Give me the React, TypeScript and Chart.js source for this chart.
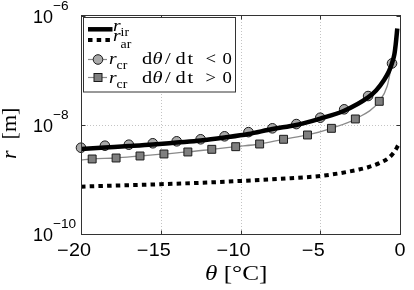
import React, { useEffect, useRef } from "react";
import { Chart, registerables } from "chart.js";
Chart.register(...registerables);

// ---- data ----
const xTicks = [-20, -15, -10, -5, 0];
const xTickLabels = ["−20", "−15", "−10", "−5", "0"];
const yTicks = [1e-6, 1e-8, 1e-10];
const yTickExponents = ["−6", "−8", "−10"];

// r_ir (thick solid line)
const irTheta = [-20, -18.5, -17, -15.5, -14, -12.5, -11, -9.5, -8, -6.5, -5, -3.5, -2, -1.5, -1, -0.7, -0.5, -0.35, -0.27, -0.17];
const irR = [3.63e-9, 3.86e-9, 4.1e-9, 4.38e-9, 4.77e-9, 5.2e-9, 5.9e-9, 6.84e-9, 8.45e-9, 1.0e-8, 1.31e-8, 1.83e-8, 3.22e-8, 4.3e-8, 6.7e-8, 9.6e-8, 1.37e-7, 2.0e-7, 3.0e-7, 5.9e-7];

// r_ar (thick dotted line)
const arTheta = [-20, -17.5, -15, -12.5, -10, -7.5, -5, -3.8, -2.6, -2, -1.3, -0.7, -0.4, -0.1];
const arR = [7.4e-10, 7.8e-10, 8.2e-10, 8.7e-10, 9.4e-10, 1.03e-9, 1.16e-9, 1.3e-9, 1.52e-9, 1.68e-9, 2.0e-9, 2.5e-9, 3.1e-9, 4.3e-9];

// r_cr, dθ/dt < 0 (circles)
const crCoolTheta = [-20, -18.5, -17, -15.5, -14, -12.5, -11, -9.5, -8, -6.5, -5, -3.5, -2, -0.5];
const crCoolR = [3.83e-9, 4.17e-9, 4.35e-9, 4.62e-9, 5.02e-9, 5.47e-9, 6.2e-9, 7.4e-9, 8.69e-9, 1.04e-8, 1.36e-8, 1.94e-8, 3.4e-8, 1.35e-7];

// r_cr, dθ/dt > 0 (squares)
const crWarmTheta = [-19.3, -17.8, -16.3, -14.8, -13.3, -11.8, -10.3, -8.8, -7.3, -5.8, -4.3, -2.8, -1.3];
const crWarmR = [2.38e-9, 2.48e-9, 2.7e-9, 2.94e-9, 3.2e-9, 3.58e-9, 4.0e-9, 4.48e-9, 5.47e-9, 6.56e-9, 8.69e-9, 1.29e-8, 2.72e-8];

// thin grey curve through the squares
const crWarmCurveTheta = [-20, -19.3, -17.8, -16.3, -14.8, -13.3, -11.8, -10.3, -8.8, -7.3, -5.8, -4.3, -2.8, -1.3, -0.8, -0.58, -0.45];
const crWarmCurveR = [2.28e-9, 2.38e-9, 2.48e-9, 2.7e-9, 2.94e-9, 3.2e-9, 3.58e-9, 4.0e-9, 4.48e-9, 5.47e-9, 6.56e-9, 8.69e-9, 1.29e-8, 2.72e-8, 5.2e-8, 1.05e-7, 1.8e-7];

// legend texts
const legendSymbol = ["r", "r", "r", "r"];
const legendSub = ["ir", "ar", "cr", "cr"];
const legendRate = ["d", "θ", "/", "d", "t"];
const legendTail = ["", "", "<", ">"];

const pts = (xs: number[], ys: number[]) => xs.map((x, i) => ({ x, y: ys[i] }));

type Run = { t: string; f: string; dy?: number };

function drawRuns(ctx: CanvasRenderingContext2D, runs: Run[], x: number, y: number, sx = 1) {
  let cx = x;
  for (const r of runs) {
    ctx.save();
    ctx.font = r.f;
    ctx.translate(cx, y + (r.dy || 0));
    ctx.scale(sx, 1);
    ctx.fillText(r.t, 0, 0);
    const w = ctx.measureText(r.t).width;
    ctx.restore();
    cx += w * sx;
  }
  return cx;
}

function textW(ctx: CanvasRenderingContext2D, t: string, f: string) {
  ctx.save();
  ctx.font = f;
  const w = ctx.measureText(t).width;
  ctx.restore();
  return w;
}

const SERIF = '"Liberation Serif", "Times New Roman", serif';
const SANS = '"Liberation Sans", Arial, sans-serif';

const decorPlugin = {
  id: "decor",
  beforeDatasetsDraw(chart: any) {
    const ctx: CanvasRenderingContext2D = chart.ctx;
    const { left, right, top, bottom } = chart.chartArea;
    const xs = chart.scales.x;
    const ys = chart.scales.y;
    ctx.save();
    ctx.strokeStyle = "#c4c4c4";
    ctx.lineWidth = 1;
    ctx.setLineDash([1, 2]);
    xTicks.forEach((v) => {
      const px = Math.round(xs.getPixelForValue(v)) + 0.5;
      if (px <= left + 2 || px >= right - 2) return;
      ctx.beginPath();
      ctx.moveTo(px, top);
      ctx.lineTo(px, bottom);
      ctx.stroke();
    });
    yTicks.forEach((v) => {
      const py = Math.round(ys.getPixelForValue(v)) + 0.5;
      if (py <= top + 2 || py >= bottom - 2) return;
      ctx.beginPath();
      ctx.moveTo(left, py);
      ctx.lineTo(right, py);
      ctx.stroke();
    });
    ctx.restore();
  },
  afterDatasetsDraw(chart: any) {
    const ctx: CanvasRenderingContext2D = chart.ctx;
    const { left, right, top, bottom } = chart.chartArea;
    const xs = chart.scales.x;
    const ys = chart.scales.y;
    ctx.save();
    // box
    ctx.strokeStyle = "#333";
    ctx.lineWidth = 1;
    const L = Math.round(left) + 0.5, R = Math.round(right) + 0.5, T = Math.round(top) - 0.5, B = Math.round(bottom) + 0.5;
    ctx.strokeRect(L, T, R - L, B - T);
    // inward tick marks
    const tl = 4;
    xTicks.forEach((v) => {
      const px = Math.round(xs.getPixelForValue(v)) + 0.5;
      ctx.beginPath();
      ctx.moveTo(px, B); ctx.lineTo(px, B - tl);
      ctx.moveTo(px, T); ctx.lineTo(px, T + tl);
      ctx.stroke();
    });
    yTicks.forEach((v) => {
      const py = Math.round(ys.getPixelForValue(v)) + 0.5;
      ctx.beginPath();
      ctx.moveTo(L, py); ctx.lineTo(L + tl, py);
      ctx.moveTo(R, py); ctx.lineTo(R - tl, py);
      ctx.stroke();
    });

    ctx.fillStyle = "#000";
    ctx.textBaseline = "alphabetic";
    // x tick labels
    const tf = `18px ${SANS}`;
    const sxT = 1.1;
    xTicks.forEach((v, i) => {
      const px = xs.getPixelForValue(v);
      const lab = xTickLabels[i];
      const neg = lab.startsWith("−");
      const digits = neg ? lab.slice(1) : lab;
      const dw = textW(ctx, digits, tf) * sxT;
      const dx = px - dw / 2 - (neg ? 1 : 0);
      drawRuns(ctx, [{ t: digits, f: tf }], dx, 256, sxT);
      if (neg) {
        const mw = textW(ctx, "−", tf) * sxT;
        drawRuns(ctx, [{ t: "−", f: tf }], dx - mw - 0.5, 256, sxT);
      }
    });
    // y tick labels
    yTicks.forEach((v, i) => {
      const py = ys.getPixelForValue(v);
      const end = drawRuns(ctx, [{ t: "10", f: tf }], 33, py + 7, 1.0);
      drawRuns(ctx, [{ t: yTickExponents[i], f: `13px ${SANS}` }], end, py - 6, 1.05);
    });
    // x axis label
    const xf = `21px ${SERIF}`;
    const xfi = `italic 21px ${SERIF}`;
    drawRuns(ctx, [
      { t: "θ", f: xfi },
      { t: " [°C]", f: xf },
    ], 205, 280, 1.2);
    // y axis label (rotated)
    ctx.save();
    ctx.translate(16, 159);
    ctx.rotate(-Math.PI / 2);
    drawRuns(ctx, [
      { t: "r", f: `italic 22px ${SERIF}` },
      { t: "  [m]", f: `22px ${SERIF}` },
    ], 0, 0, 1.0);
    ctx.restore();

    // legend
    const lx = 83.5, ly = 17.5, lw = 152, lh = 74.5;
    ctx.fillStyle = "#fff";
    ctx.fillRect(lx, ly, lw, lh);
    ctx.strokeStyle = "#333";
    ctx.lineWidth = 1;
    ctx.strokeRect(lx, ly, lw, lh);

    // samples
    ctx.strokeStyle = "#000";
    ctx.lineWidth = 4.5;
    ctx.beginPath(); ctx.moveTo(88, 29.3); ctx.lineTo(112.5, 29.3); ctx.stroke();
    ctx.lineWidth = 4;
    ctx.setLineDash([4.5, 4.2]);
    ctx.beginPath(); ctx.moveTo(88, 40); ctx.lineTo(112, 40); ctx.stroke();
    ctx.setLineDash([]);
    ctx.strokeStyle = "#8a8a8a";
    ctx.lineWidth = 1.2;
    ctx.beginPath(); ctx.moveTo(88, 59.5); ctx.lineTo(107, 59.5); ctx.stroke();
    ctx.beginPath(); ctx.moveTo(88, 77.5); ctx.lineTo(107, 77.5); ctx.stroke();
    ctx.fillStyle = "#a9a9a9";
    ctx.strokeStyle = "#1a1a1a";
    ctx.lineWidth = 1;
    ctx.beginPath(); ctx.arc(98, 59.5, 4.8, 0, Math.PI * 2); ctx.fill(); ctx.stroke();
    ctx.fillStyle = "#7f7f7f";
    ctx.fillRect(94, 73.5, 8, 8);
    ctx.strokeRect(94, 73.5, 8, 8);

    // legend texts
    ctx.fillStyle = "#000";
    const lf = `17px ${SERIF}`;
    const lfi = `italic 17px ${SERIF}`;
    const sf = `12px ${SERIF}`;
    const sxL = 1.15;
    drawRuns(ctx, [{ t: legendSymbol[0], f: lfi }, { t: legendSub[0], f: sf, dy: 5 }], 113, 31, sxL);
    drawRuns(ctx, [{ t: legendSymbol[1], f: lfi }, { t: legendSub[1], f: sf, dy: 6.5 }], 113, 41, sxL);
    const rowY = [64.3, 82.7];
    const rateX = [142, 152.5, 165, 175.5, 187.5];
    [2, 3].forEach((k, j) => {
      const by = rowY[j];
      drawRuns(ctx, [{ t: legendSymbol[k], f: lfi }, { t: legendSub[k], f: sf, dy: 5 }], 109, by, sxL);
      legendRate.forEach((g, gi) => {
        drawRuns(ctx, [{ t: g, f: g === "θ" ? lfi : lf }], rateX[gi], by, 1.2);
      });
      drawRuns(ctx, [{ t: legendTail[k], f: lf }], 205.5, by, 1.1);
      drawRuns(ctx, [{ t: "0", f: lf }], 222.5, by, 1.1);
    });
    ctx.restore();
  },
};

export default function App() {
  const ref = useRef<HTMLCanvasElement | null>(null);
  useEffect(() => {
    document.body.style.margin = "0";
    const canvas = ref.current!;
    const chart = new Chart(canvas, {
      type: "line",
      data: {
        datasets: [
          {
            label: "r_ir",
            data: pts(irTheta, irR),
            borderColor: "#000",
            borderWidth: 4.5,
            pointRadius: 0,
            cubicInterpolationMode: "monotone",
            fill: false,
            order: 1,
          },
          {
            label: "r_ar",
            data: pts(arTheta, arR),
            borderColor: "#000",
            borderWidth: 4,
            borderDash: [4.5, 4.2],
            pointRadius: 0,
            cubicInterpolationMode: "monotone",
            fill: false,
            order: 0,
          },
          {
            label: "r_cr dθ/dt < 0",
            data: pts(crCoolTheta, crCoolR),
            showLine: false,
            pointStyle: "circle",
            pointRadius: 4.8,
            pointBackgroundColor: "#a9a9a9",
            pointBorderColor: "#1a1a1a",
            pointBorderWidth: 1,
            clip: 10,
            order: 2,
          },
          {
            label: "curve",
            data: pts(crWarmCurveTheta, crWarmCurveR),
            borderColor: "#8a8a8a",
            borderWidth: 1.3,
            pointRadius: 0,
            cubicInterpolationMode: "monotone",
            fill: false,
            order: 4,
          },
          {
            label: "r_cr dθ/dt > 0",
            data: pts(crWarmTheta, crWarmR),
            showLine: false,
            pointStyle: "rect",
            pointRadius: 5.6,
            pointBackgroundColor: "#7f7f7f",
            pointBorderColor: "#1a1a1a",
            pointBorderWidth: 1,
            clip: 10,
            order: 3,
          },
        ],
      },
      options: {
        animation: false,
        responsive: false,
        devicePixelRatio: 1,
        layout: { padding: { left: 81, right: 14, top: 16, bottom: 56 } },
        plugins: { legend: { display: false }, tooltip: { enabled: false } },
        scales: {
          x: { type: "linear", min: -20, max: 0, display: false },
          y: { type: "logarithmic", min: 1e-10, max: 1e-6, display: false },
        },
      },
      plugins: [decorPlugin],
    } as any);
    return () => chart.destroy();
  }, []);
  return (
    <div style={{ width: 414, height: 290, background: "#fff" }}>
      <canvas ref={ref} width={414} height={290} style={{ display: "block", width: 414, height: 290 }} />
    </div>
  );
}
